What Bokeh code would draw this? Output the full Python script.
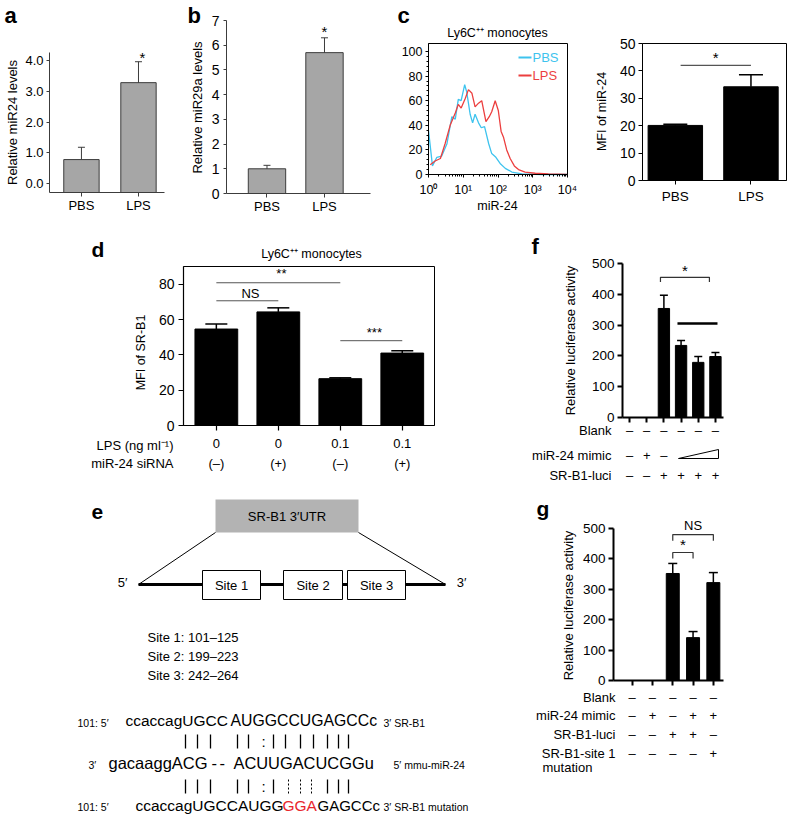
import math
from bokeh.plotting import figure
from bokeh.models import (Range1d, FixedTicker, Whisker, TeeHead, ColumnDataSource,
                          NumeralTickFormatter, LinearAxis, LogAxis, LogScale)
from bokeh.embed import file_html
from bokeh.resources import INLINE
from bokeh.core.properties import value

FONT = "Liberation Sans"

# ---------------- data ----------------
a_groups = ["PBS", "LPS"]
a_mean = [0.78, 3.28]
a_err = [0.40, 0.68]

b_groups = ["PBS", "LPS"]
b_mean = [1.0, 5.7]
b_err = [0.14, 0.6]

c_pbs_x = [1.0, 1.3, 1.74, 2.4, 3.4, 4.7, 5.9, 7.2, 8.7, 11.0, 12.6, 15.8, 18.6, 21.9, 27.5,
           33, 41, 54, 66, 87, 115, 162, 251, 490, 1820, 10000]
c_pbs_y = [36, 7, 14, 15, 25, 47, 45, 61, 60, 73, 67, 49, 42, 49, 42,
           38, 39, 25, 17, 14, 9, 5, 2, 0.5, 0, 0]
c_lps_x = [1.12, 1.55, 2.2, 3.0, 4.2, 5.9, 7.2, 8.7, 11.5, 14.1, 17.8, 21.9, 27.5, 34, 45,
           56, 66, 83, 102, 123, 145, 178, 224, 295, 389, 603, 1175, 2820, 10000]
c_lps_y = [8, 11, 13, 25, 40, 50, 57, 54, 62, 69, 66, 55, 58, 60, 43,
           47, 51, 60, 52, 35, 30, 20, 13, 7, 4, 2, 1, 0.5, 0]
c_hist_ticks = [1, 10, 100, 1000, 10000]
c_hist_tick_labels = ["10⁰", "10¹", "10²", "10³", "10⁴"]

c_groups = ["PBS", "LPS"]
c_mean = [20.1, 34.2]
c_err = [0.4, 4.4]

d_lps = ["0", "0", "0.1", "0.1"]
d_sirna = ["(–)", "(+)", "(–)", "(+)"]
d_mean = [54.6, 64.3, 26.5, 41.0]
d_err = [2.9, 2.3, 0.5, 1.3]

f_mean = [0, 0, 354, 234, 179, 198]
f_err = [0, 0, 43, 16, 19, 13]
f_blank = ["–", "–", "–", "–", "–", "–"]
f_mimic = ["–", "+", "–"]
f_luci = ["–", "–", "+", "+", "+", "+"]

g_mean = [0, 0, 352, 141, 322]
g_err = [0, 0, 33, 20, 33]
g_blank = ["–", "–", "–", "–", "–"]
g_mimic = ["–", "+", "–", "+", "+"]
g_luci = ["–", "–", "+", "+", "–"]
g_mut = ["–", "–", "–", "–", "+"]

e_sites = ["Site 1", "Site 2", "Site 3"]
e_site_ranges = ["101–125", "199–223", "242–264"]
e_top_parts = ["ccaccagUGCC", "AUGGCCUGAGCCc"]
e_mir_parts = ["gacaaggACG", "-", "-", "ACUUGACUCGGu"]
e_mut_parts = ["ccaccagUGCCAUGG", "GGA", "GAGCCc"]
e_pair_top_kind = ["|", "|", "|", "|", "|", ":", "|", "|", "|", "|", "|", "|", "|"]
e_pair_mut_kind = ["|", "|", "|", "|", "|", ":", "|", "!", "!", "!", "|", "|", "|"]

# ---------------- canvas ----------------
WPX, HPX = 788, 814
p = figure(width=WPX, height=HPX, x_range=Range1d(0, WPX), y_range=Range1d(HPX, 0),
           output_backend="svg", toolbar_location=None, x_axis_location=None,
           y_axis_location=None, min_border_left=0, min_border_right=0,
           min_border_top=0, min_border_bottom=0)
p.outline_line_color = None
p.background_fill_color = "white"
p.border_fill_color = "white"
for gr in p.grid:
    gr.visible = False

PAN = {}
xr_extra, yr_extra, xs_extra = {}, {}, {}


def panel(name, frame, xr, yr, log_x=False):
    fx0, fy0, fx1, fy1 = frame
    if log_x:
        lx0, lx1 = math.log10(xr[0]), math.log10(xr[1])

        def xmap(px):
            return 10 ** (lx0 + (px - fx0) / (fx1 - fx0) * (lx1 - lx0))
    else:
        def xmap(px):
            return xr[0] + (px - fx0) / (fx1 - fx0) * (xr[1] - xr[0])

    def ymap(py):
        return yr[0] + (fy1 - py) / (fy1 - fy0) * (yr[1] - yr[0])
    xr_extra[name] = Range1d(xmap(0), xmap(WPX))
    yr_extra[name] = Range1d(ymap(HPX), ymap(0))
    if log_x:
        xs_extra[name] = LogScale()
    PAN[name] = dict(frame=frame, xr=xr, yr=yr)


panel("a", (49, 52, 164, 192), (-0.56, 1.456), (-0.29, 4.26))
panel("b", (226, 20, 370, 193), (-0.704, 1.80), (0, 7))
panel("h", (428, 43, 567, 174), (1, 10000), (0, 106.5), log_x=True)
panel("c", (642, 43, 786, 180), (-0.434, 1.47), (0, 50))
panel("d", (183, 266, 434, 425), (-0.53, 3.52), (0, 90))
panel("f", (622, 263, 723, 417), (-0.41, 5.47), (0, 500))
panel("g", (613, 528, 723, 680), (-0.92, 4.5), (0, 500))
p.extra_x_ranges = xr_extra
p.extra_y_ranges = yr_extra
p.extra_x_scales = xs_extra


def axis(name, dim, ticks, labels=None, fmt=None, color="black", width=1.0, tick_out=4,
         tick_px=13, standoff=3, minor=None, log=False):
    P = PAN[name]
    ticker = FixedTicker(ticks=ticks, minor_ticks=minor or [])
    if dim == "y":
        ax = LinearAxis(x_range_name=name, y_range_name=name, fixed_location=P["xr"][0],
                        bounds=tuple(P["yr"]), ticker=ticker)
    else:
        cls = LogAxis if log else LinearAxis
        ax = cls(x_range_name=name, y_range_name=name, fixed_location=P["yr"][0],
                 bounds=tuple(P["xr"]), ticker=ticker)
    ax.axis_line_color = color
    ax.axis_line_width = width
    ax.major_tick_line_color = color
    ax.major_tick_line_width = width
    ax.major_tick_in = 0
    ax.major_tick_out = tick_out
    if minor:
        ax.minor_tick_line_color = color
        ax.minor_tick_in = 0
        ax.minor_tick_out = 2
    else:
        ax.minor_tick_line_color = None
    ax.major_label_text_font = FONT
    ax.major_label_text_font_size = f"{tick_px}px"
    ax.major_label_text_color = "black"
    ax.major_label_standoff = standoff
    if labels is not None:
        ax.major_label_overrides = dict(zip(ticks, labels))
    if fmt is not None:
        ax.formatter = NumeralTickFormatter(format=fmt)
    p.add_layout(ax, "left" if dim == "y" else "below")


def txt(xs, ys, texts, size=13, align="left", color="black", bold=False, angle=0.0,
        baseline="middle", xname=None, yname=None):
    kw = {}
    if xname:
        kw["x_range_name"] = xname
    if yname:
        kw["y_range_name"] = yname
    p.text(x=list(xs), y=list(ys), text=list(texts), text_font=value(FONT),
           text_font_size=value(f"{size}px"), text_align=align, text_baseline=baseline,
           text_color=color, text_font_style="bold" if bold else "normal", angle=angle, **kw)


def errbars(name, xs, means, errs, cap, color="black", width=1.0, both=False):
    idx = [i for i in range(len(xs)) if errs[i] > 0]
    src = ColumnDataSource(dict(
        x=[xs[i] for i in idx],
        up=[means[i] + errs[i] for i in idx],
        lo=[(means[i] - errs[i]) if both else means[i] for i in idx]))
    w = Whisker(source=src, base="x", upper="up", lower="lo", dimension="height",
                line_color=color, line_width=width, x_range_name=name, y_range_name=name,
                upper_head=TeeHead(size=cap, line_color=color, line_width=width),
                lower_head=TeeHead(size=cap, line_color=color, line_width=width) if both else None)
    p.add_layout(w)


def box(name):
    P = PAN[name]
    p.quad(left=[P["xr"][0]], right=[P["xr"][1]], bottom=[P["yr"][0]], top=[P["yr"][1]],
           fill_color=None, line_color="black", line_width=1, x_range_name=name, y_range_name=name)


ROT = math.pi / 2

# ---------------- panel a ----------------
a_x = list(range(len(a_groups)))
p.vbar(x=a_x, top=a_mean, bottom=PAN["a"]["yr"][0], width=0.62, fill_color="#a6a6a6",
       line_color="#3c3c3c", line_width=1, x_range_name="a", y_range_name="a")
errbars("a", a_x, a_mean, a_err, 7, color="#3c3c3c", both=True)
axis("a", "y", [0, 1, 2, 3, 4], fmt="0.0", color="#3c3c3c", tick_out=3, tick_px=13, standoff=3)
axis("a", "x", a_x, labels=a_groups, color="#3c3c3c", tick_out=4, tick_px=13, standoff=1)
txt([12], [122], ["Relative miR24 levels"], size=13, align="center", angle=ROT)
txt([4], [15], ["a"], size=22, bold=True)
txt([1.07], [4.1], ["*"], size=15, align="center", xname="a", yname="a")

# ---------------- panel b ----------------
b_x = list(range(len(b_groups)))
p.vbar(x=b_x, top=b_mean, bottom=0, width=0.65, fill_color="#a6a6a6",
       line_color="#3c3c3c", line_width=1, x_range_name="b", y_range_name="b")
errbars("b", b_x, b_mean, b_err, 7, color="#3c3c3c", both=True)
axis("b", "y", list(range(8)), color="#3c3c3c", tick_out=3, tick_px=14, standoff=4)
axis("b", "x", b_x, labels=b_groups, color="#3c3c3c", tick_out=4, tick_px=13, standoff=1)
txt([197], [107], ["Relative miR29a levels"], size=13, align="center", angle=ROT)
txt([187], [15], ["b"], size=22, bold=True)
txt([1], [6.55], ["*"], size=15, align="center", xname="b", yname="b")

# ---------------- panel c (histogram) ----------------
CYAN = "#3ec3ee"
RED = "#ec3f3f"
p.line(c_pbs_x, c_pbs_y, line_color=CYAN, line_width=1.3, x_range_name="h", y_range_name="h")
p.line(c_lps_x, c_lps_y, line_color=RED, line_width=1.3, x_range_name="h", y_range_name="h")
box("h")
axis("h", "x", c_hist_ticks, labels=c_hist_tick_labels, tick_out=3, tick_px=12.5, standoff=5,
     minor=[k * 10 ** d for d in range(4) for k in range(2, 10)], log=True)
axis("h", "y", [0, 20, 40, 60, 80, 100], tick_out=3, tick_px=12.5, standoff=3,
     minor=[v for v in range(0, 101, 4) if v % 20])
p.segment(x0=[518, 518], y0=[57, 75], x1=[531, 531], y1=[57, 75], line_color=[CYAN, RED],
          line_width=2)
txt([532], [57], ["PBS"], size=13, color=CYAN)
txt([532], [75], ["LPS"], size=13, color=RED)
txt([397], [15], ["c"], size=22, bold=True)
txt([497], [32], ["Ly6C⁺⁺ monocytes"], size=12.5, align="center")
txt([497], [205], ["miR-24"], size=12.5, align="center")

# ---------------- panel c (MFI bars) ----------------
c_x = list(range(len(c_groups)))
p.vbar(x=c_x, top=c_mean, bottom=0, width=0.72, fill_color="black", line_color="black",
       x_range_name="c", y_range_name="c")
errbars("c", c_x, c_mean, c_err, 24, color="black", width=1.5)
box("c")
axis("c", "y", [0, 10, 20, 30, 40, 50], tick_out=4, tick_px=14, standoff=3)
axis("c", "x", c_x, labels=c_groups, tick_out=4, tick_px=13.5, standoff=4)
p.line([0.07, 1.0], [42, 42], line_color="#555555", line_width=1.2, x_range_name="c",
       y_range_name="c")
txt([0.535], [44.8], ["*"], size=15, align="center", xname="c", yname="c")
txt([601], [111], ["MFI of miR-24"], size=12.5, align="center", angle=ROT)

# ---------------- panel d ----------------
d_x = list(range(len(d_mean)))
p.vbar(x=d_x, top=d_mean, bottom=0, width=0.69, fill_color="black", line_color="black",
       x_range_name="d", y_range_name="d")
errbars("d", d_x, d_mean, d_err, 22, color="black", width=1.5)
box("d")
axis("d", "y", [0, 20, 40, 60, 80], width=1.2, tick_out=5, tick_px=14, standoff=4)
axis("d", "x", d_x, labels=d_lps, width=1.2, tick_out=5, tick_px=13, standoff=8)
sig_d = [(0, 2, 80.8, "**", 85.8), (0, 1, 70.6, "NS", 75.0), (2, 3, 48.0, "***", 52.5)]
for (x0, x1, y, s, ty) in sig_d:
    p.line([x0, x1], [y, y], line_color="#555555", line_width=1, x_range_name="d",
           y_range_name="d")
    txt([(x0 + x1) / 2 + 0.05], [ty], [s], size=13, align="center", xname="d", yname="d")
txt(d_x, [463] * len(d_x), d_sirna, size=13, align="center", xname="d")
txt([173], [445], ["LPS (ng ml⁻¹)"], size=13, align="right")
txt([173], [463], ["miR-24 siRNA"], size=13, align="right")
txt([140], [352], ["MFI of SR-B1"], size=12.5, align="center", angle=ROT)
txt([91], [249], ["d"], size=21, bold=True)
txt([311], [253], ["Ly6C⁺⁺ monocytes"], size=12.5, align="center")

# ---------------- panel e (diagram, page pixels) ----------------
txt([91], [511], ["e"], size=21, bold=True)
p.quad(left=[215], right=[358], top=[499], bottom=[532], fill_color="#b3b3b3", line_color=None)
txt([286.5], [515.5], ["SR-B1 3′UTR"], size=13, align="center")
p.segment(x0=[215, 358], y0=[532, 532], x1=[138, 445], y1=[584, 584],
          line_color="black", line_width=1)
p.segment(x0=[138], y0=[584], x1=[445], y1=[584], line_color="black", line_width=3)
p.quad(left=[202, 283, 347], right=[260, 342, 405], top=[570] * 3, bottom=[599] * 3,
       fill_color="white", line_color="black", line_width=1)
txt([231, 312.5, 376], [585] * 3, e_sites, size=13, align="center")
txt([122], [582], ["5′"], size=13, align="center")
txt([461], [582], ["3′"], size=13, align="center")
txt([147] * 3, [637, 656, 675], [f"{s}: {r}" for s, r in zip(e_sites, e_site_ranges)], size=13)

txt([77], [722], ["101: 5′"], size=10.5)
txt([125], [720], [e_top_parts[0]], size=15.5)
txt([230], [720], [e_top_parts[1]], size=15.8)
txt([383], [722], ["3′ SR-B1"], size=10.5)
txt([88], [764], ["3′"], size=10.5)
txt([108], [762], [e_mir_parts[0]], size=16.5)
txt([211, 219], [762, 762], e_mir_parts[1:3], size=16.5)
txt([233], [762], [e_mir_parts[3]], size=16.4)
txt([393], [764], ["5′ mmu-miR-24"], size=10.5)
txt([77], [806], ["101: 5′"], size=10.5)
txt([135], [805], [e_mut_parts[0]], size=15.5)
txt([282], [805], [e_mut_parts[1]], size=15.5, color="#e8262d")
txt([317], [805], [e_mut_parts[2]], size=15)
txt([383], [806], ["3′ SR-B1 mutation"], size=10.5)

e_pair_top_x = [185, 197, 210, 237, 248, 263, 273, 285, 300, 313, 327, 338, 348]
e_pair_mut_x = [185, 197, 210, 237, 248, 263, 273, 288, 300, 311, 327, 338, 348]


def pairs(xs, kinds, yc):
    solid = [x for x, k in zip(xs, kinds) if k == "|"]
    dotted = [x for x, k in zip(xs, kinds) if k == "!"]
    colon = [x for x, k in zip(xs, kinds) if k == ":"]
    p.segment(x0=solid, y0=[yc - 7] * len(solid), x1=solid, y1=[yc + 7] * len(solid),
              line_color="black", line_width=1.3)
    if dotted:
        p.segment(x0=dotted, y0=[yc - 7] * len(dotted), x1=dotted, y1=[yc + 7] * len(dotted),
                  line_color="black", line_width=1.0, line_dash="2 2")
    txt(colon, [yc] * len(colon), [":"] * len(colon), size=15, align="center")


pairs(e_pair_top_x, e_pair_top_kind, 741)
pairs(e_pair_mut_x, e_pair_mut_kind, 786)

# ---------------- panel f ----------------
f_x = list(range(len(f_mean)))
p.vbar(x=f_x, top=f_mean, bottom=0, width=0.66, fill_color="black", line_color="black",
       x_range_name="f", y_range_name="f")
errbars("f", f_x, f_mean, f_err, 8, color="black", width=1.5)
axis("f", "y", [0, 100, 200, 300, 400, 500], width=2, tick_out=5, tick_px=13.5, standoff=3)
axis("f", "x", f_x, labels=[""] * len(f_x), width=2, tick_out=5, tick_px=13, standoff=3)
p.line([1.8, 1.8, 4.65, 4.65], [440, 455, 455, 440], line_color="#333333", line_width=1.2,
       x_range_name="f", y_range_name="f")
p.line([2.79, 5.12], [305, 305], line_color="black", line_width=2.5, x_range_name="f",
       y_range_name="f")
txt([3.22], [478], ["*"], size=15, align="center", xname="f", yname="f")
txt([570], [340], ["Relative luciferase activity"], size=13, align="center", angle=ROT)
txt([531], [246], ["f"], size=22, bold=True)
rows_f = [("Blank", 430, f_blank), ("miR-24 mimic", 455, f_mimic), ("SR-B1-luci", 475, f_luci)]
for name, py, marks in rows_f:
    txt([611], [py], [name], size=13, align="right")
    txt(f_x[:len(marks)], [py] * len(marks), marks, size=13, align="center", xname="f")
p.patch(x=[678, 718, 718], y=[458, 458, 449], fill_color=None, line_color="black", line_width=1)

# ---------------- panel g ----------------
g_x = list(range(len(g_mean)))
p.vbar(x=g_x, top=g_mean, bottom=0, width=0.64, fill_color="black", line_color="black",
       x_range_name="g", y_range_name="g")
errbars("g", g_x, g_mean, g_err, 9, color="black", width=1.5)
axis("g", "y", [0, 100, 200, 300, 400, 500], width=2, tick_out=5, tick_px=13.5, standoff=3)
axis("g", "x", g_x, labels=[""] * len(g_x), width=2, tick_out=5, tick_px=13, standoff=3)
p.line([2, 2, 3, 3], [401, 421, 421, 401], line_color="#333333", line_width=1.2,
       x_range_name="g", y_range_name="g")
p.line([2, 2, 4, 4], [460, 480, 480, 460], line_color="#333333", line_width=1.2,
       x_range_name="g", y_range_name="g")
txt([2.5], [446], ["*"], size=15, align="center", xname="g", yname="g")
txt([3.0], [510], ["NS"], size=13, align="center", xname="g", yname="g")
txt([568], [605], ["Relative luciferase activity"], size=13, align="center", angle=ROT)
txt([536], [508], ["g"], size=21, bold=True)
rows_g = [("Blank", 697, g_blank), ("miR-24 mimic", 715, g_mimic),
          ("SR-B1-luci", 734, g_luci), ("SR-B1-site 1", 753, g_mut)]
for name, py, marks in rows_g:
    txt([615], [py], [name], size=13, align="right")
    txt(g_x[:len(marks)], [py] * len(marks), marks, size=13, align="center", xname="g")
txt([542], [767], ["mutation"], size=13)

open("out.html", "w").write(file_html(p, INLINE))
